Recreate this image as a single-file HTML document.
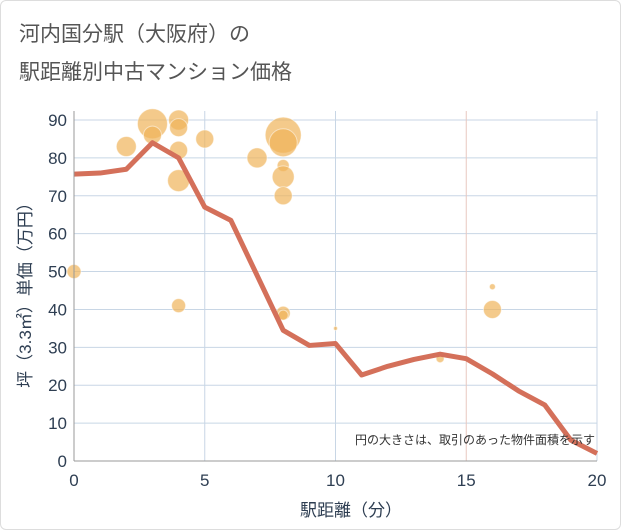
<!DOCTYPE html>
<html><head><meta charset="utf-8"><style>
body{margin:0;background:#fff;font-family:"Liberation Sans","Noto Sans CJK JP",sans-serif}
#wrap{position:relative;width:621px;height:530px;border:1px solid #ddd;box-sizing:border-box;border-radius:6px}
</style></head><body>
<div id="wrap">
<svg id="chart" width="621" height="530" style="position:absolute;left:0;top:0">
<text x="18" y="40" font-size="21" fill="#555">河内国分駅（大阪府）の</text>
<text x="18" y="78" font-size="21" fill="#555">駅距離別中古マンション価格</text>
<g id="grid"></g><g id="bubbles"></g><g id="line"></g><g id="axes"></g>
<text x="350" y="515" font-size="17" fill="#2e3e52" text-anchor="middle">駅距離（分）</text>
<text transform="translate(30,290) rotate(-90)" font-size="17" fill="#2e3e52" text-anchor="middle">坪（3.3㎡）単価（万円）</text>
<text x="594" y="443" font-size="12" fill="#333" text-anchor="end">円の大きさは、取引のあった物件面積を示す</text>
</svg></div>
<script>
const xTicks=[0,5,10,15,20];
const yTicks=[0,10,20,30,40,50,60,70,80,90];
const lineX=[0,1,2,3,4,5,6,7,8,9,10,11,12,13,14,15,16,17,18,19,20];
const lineY=[75.7,76,77,84,80,67,63.5,49,34.5,30.5,31,22.7,25,26.8,28.2,27,23,18.5,14.8,5.5,2];
const bubX=[0,2,3,3,4,4,4,4,4,5,7,8,8,8,8,8,8,8,10,14,16,16];
const bubY=[50,83,89,86,90,88,82,74,41,85,80,86,84,78,75,70,39,38.5,35,27,46,40];
const bubR=[7,10,15,9,10,9,9,11,7,9,10,18,14,6,11,9,7,5,2,4,3,9];
const NS='http://www.w3.org/2000/svg';
const X=v=>73+v*(596-73)/20, Y=v=>460-v*(460-119)/90;
function mk(t,a,p){const e=document.createElementNS(NS,t);for(const k in a)e.setAttribute(k,a[k]);p.appendChild(e);return e;}
const g=document.getElementById('grid'),ax=document.getElementById('axes');
yTicks.forEach(v=>{const l=mk('line',{x1:73,x2:596,y1:Y(v),y2:Y(v),stroke:'#c8d6e5','stroke-width':1},g);


const t=mk('text',{x:66,y:Y(v)+6,'font-size':17,fill:'#2e3e52','text-anchor':'end'},ax);t.textContent=v;

});
xTicks.forEach(v=>{const l=mk('line',{x1:X(v),x2:X(v),y1:110,y2:460,stroke:v==15?'#e8c8c0':'#c8d6e5','stroke-width':1},g);


const t=mk('text',{x:X(v),y:485,'font-size':17,fill:'#2e3e52','text-anchor':'middle'},ax);t.textContent=v;

});
const a1=mk('line',{x1:73,x2:73,y1:110,y2:460,stroke:'#999'},ax);


const a2=mk('line',{x1:73,x2:596,y1:460,y2:460,stroke:'#999'},ax);


const b=document.getElementById('bubbles');
bubX.forEach((v,i)=>{const c=mk('circle',{cx:X(v),cy:Y(bubY[i]),r:bubR[i],fill:'#efb45a','fill-opacity':0.7,stroke:'#fff','stroke-opacity':0.5},b);

});
const p=mk('polyline',{points:lineX.map((v,i)=>X(v)+','+Y(lineY[i])).join(' '),fill:'none',stroke:'#d4705a','stroke-width':5,'stroke-linejoin':'round'},document.getElementById('line'));


</script></body></html>
